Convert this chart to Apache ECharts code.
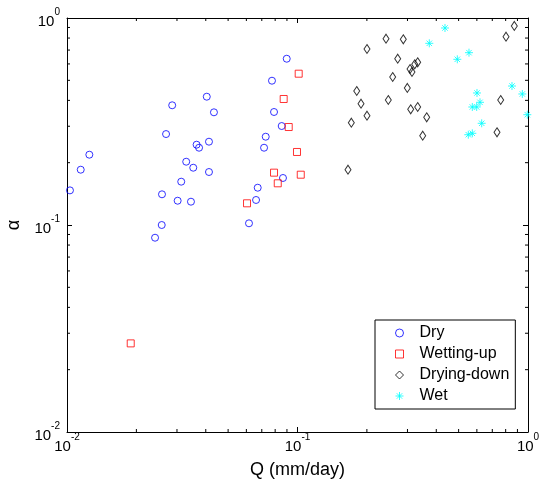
<!DOCTYPE html>
<html><head><meta charset="utf-8">
<script src="https://cdn.jsdelivr.net/npm/echarts@6/dist/echarts.min.js"></script>
<style>html,body{margin:0;padding:0;background:#fff}#c{width:547px;height:483px}</style>
</head><body><div id="c"></div>
<script>
// Dry
const dryQ = [0.0103,0.01147,0.0125,0.02583,0.02576,0.0241,0.0269,0.0286,0.0313,0.0302,0.0345,0.0329,0.0353,0.0365,0.0374,0.0413,0.0413,0.0404,0.0434,0.0616,0.0661,0.0672,0.0716,0.0728,0.0854,0.0791,0.0775,0.0865,0.0898];
const dryA = [0.147,0.185,0.2186,0.1407,0.1,0.0868,0.275,0.3787,0.1619,0.131,0.1296,0.2022,0.1891,0.2443,0.2362,0.2526,0.1803,0.4167,0.3503,0.1019,0.1321,0.1514,0.2362,0.267,0.3007,0.3515,0.4978,0.1687,0.6357];
// Wetting-up
const wupQ = [0.1012,0.0871,0.0916,0.0995,0.0791,0.0821,0.1033,0.0604,0.0189];
const wupA = [0.5382,0.4062,0.2974,0.2253,0.179,0.159,0.175,0.1273,0.0268];
// Drying-down
const ddQ = [0.1656,0.1712,0.1807,0.1886,0.2002,0.2002,0.2421,0.2877,0.2721,0.2588,0.2477,0.2995,0.3077,0.3138,0.3225,0.3322,0.3098,0.3322,0.3635,0.3493,0.7337,0.7613,0.8028,0.8722];
const ddA = [0.185,0.312,0.444,0.3855,0.3373,0.7083,0.7943,0.789,0.6357,0.5188,0.4017,0.4591,0.5671,0.5486,0.5976,0.6109,0.3622,0.3716,0.3314,0.27,0.2805,0.4017,0.8122,0.915];
// Wet
const wetQ = [0.3731,0.4364,0.4935,0.5546,0.6008,0.5733,0.599,0.6191,0.6297,0.5508,0.5733,0.8522,0.9448,0.9931];
const wetA = [0.7545,0.8948,0.6316,0.6799,0.4343,0.3716,0.3716,0.3914,0.31,0.273,0.2773,0.4692,0.4295,0.3411];

const seriesNames = ['Dry','Wetting-up','Drying-down','Wet'];
const axisMin = 0.01, axisMax = 1;
const minorVals = [0.02,0.03,0.04,0.05,0.06,0.07,0.08,0.09,0.2,0.3,0.4,0.5,0.6,0.7,0.8,0.9];

const zip = (a, b) => a.map((v, i) => [v, b[i]]);
const FONT = 'Liberation Sans, Arial, sans-serif';

const labelFmt = v => '{b|10}{s|' + Math.round(Math.log10(v)) + '}';
const richLbl = {
  b: {fontSize: 15, color: '#000', fontFamily: FONT, lineHeight: 22, verticalAlign: 'bottom'},
  s: {fontSize: 10, color: '#000', fontFamily: FONT, lineHeight: 22, verticalAlign: 'top'}
};
const baseAxis = {
  type: 'log', logBase: 10, min: axisMin, max: axisMax,
  axisLine: {show: true, lineStyle: {color: '#000', width: 1}},
  axisTick: {show: true, inside: true, length: 5, lineStyle: {color: '#000'}},
  splitLine: {show: false}, minorTick: {show: false}
};

const chart = echarts.init(document.getElementById('c'));
chart.setOption({
  animation: false,
  backgroundColor: '#fff',
  grid: {left: 67, right: 19, top: 18, bottom: 51, containLabel: false, outerBoundsMode: 'none'},
  xAxis: [
    Object.assign({}, baseAxis, {
      position: 'bottom',
      name: 'Q (mm/day)', nameLocation: 'middle', nameGap: 29,
      nameTextStyle: {fontSize: 18, color: '#000', fontFamily: FONT},
      axisLabel: {formatter: labelFmt, rich: richLbl, margin: 0}
    }),
    Object.assign({}, baseAxis, {position: 'top', axisLabel: {show: false}})
  ],
  yAxis: [
    Object.assign({}, baseAxis, {
      position: 'left',
      name: 'α', nameLocation: 'middle', nameGap: 43, nameRotate: 90,
      nameTextStyle: {fontSize: 18, color: '#000', fontFamily: FONT},
      axisLabel: {formatter: labelFmt, rich: richLbl, margin: 7}
    }),
    Object.assign({}, baseAxis, {position: 'right', axisLabel: {show: false}})
  ],
  legend: {
    data: seriesNames,
    orient: 'vertical', left: 375, top: 320,
    padding: [5, 6, 5, 20],
    itemWidth: 8, itemHeight: 8, itemGap: 5,
    itemStyle: {borderWidth: 1},
    borderColor: '#000', borderWidth: 1, borderRadius: 0, backgroundColor: '#fff',
    textStyle: {fontSize: 16, color: '#000', fontFamily: FONT, padding: [0, 0, 0, 11]},
    selectedMode: false
  },
  series: [
    {name: 'Dry', type: 'scatter', data: zip(dryQ, dryA), symbol: 'circle', symbolSize: 7,
     itemStyle: {color: 'rgba(255,255,255,0)', borderColor: '#0000ff', borderWidth: 1}},
    {name: 'Wetting-up', type: 'scatter', data: zip(wupQ, wupA), symbol: 'rect', symbolSize: 7,
     itemStyle: {color: 'rgba(255,255,255,0)', borderColor: '#ff0000', borderWidth: 1}},
    {name: 'Drying-down', type: 'scatter', data: zip(ddQ, ddA), symbol: 'diamond', symbolSize: [6, 9],
     itemStyle: {color: 'rgba(255,255,255,0)', borderColor: '#000000', borderWidth: 1}},
    {name: 'Wet', type: 'scatter', data: zip(wetQ, wetA),
     symbol: 'path://M5,0L5,10M0,5L10,5M1.6,1.6L8.4,8.4M8.4,1.6L1.6,8.4', symbolSize: 8,
     itemStyle: {color: 'rgba(0,255,255,0)', borderColor: '#00ffff', borderWidth: 1}},
    {type: 'custom', silent: true, clip: false, z: 1,
     data: minorVals.map(v => [v, axisMin]),
     renderItem: (params, api) => {
       const v = api.value(0);
       const b = api.coord([v, axisMin]), t = api.coord([v, axisMax]);
       const st = {stroke: '#000', lineWidth: 1};
       return {type: 'group', children: [
         {type: 'line', shape: {x1: b[0], y1: b[1], x2: b[0], y2: b[1] - 3}, style: st},
         {type: 'line', shape: {x1: t[0], y1: t[1], x2: t[0], y2: t[1] + 3}, style: st}
       ]};
     }},
    {type: 'custom', silent: true, clip: false, z: 1,
     data: minorVals.map(v => [axisMin, v]),
     renderItem: (params, api) => {
       const v = api.value(1);
       const l = api.coord([axisMin, v]), r = api.coord([axisMax, v]);
       const st = {stroke: '#000', lineWidth: 1};
       return {type: 'group', children: [
         {type: 'line', shape: {x1: l[0], y1: l[1], x2: l[0] + 3, y2: l[1]}, style: st},
         {type: 'line', shape: {x1: r[0], y1: r[1], x2: r[0] - 3, y2: r[1]}, style: st}
       ]};
     }}
  ]
});
</script></body></html>
